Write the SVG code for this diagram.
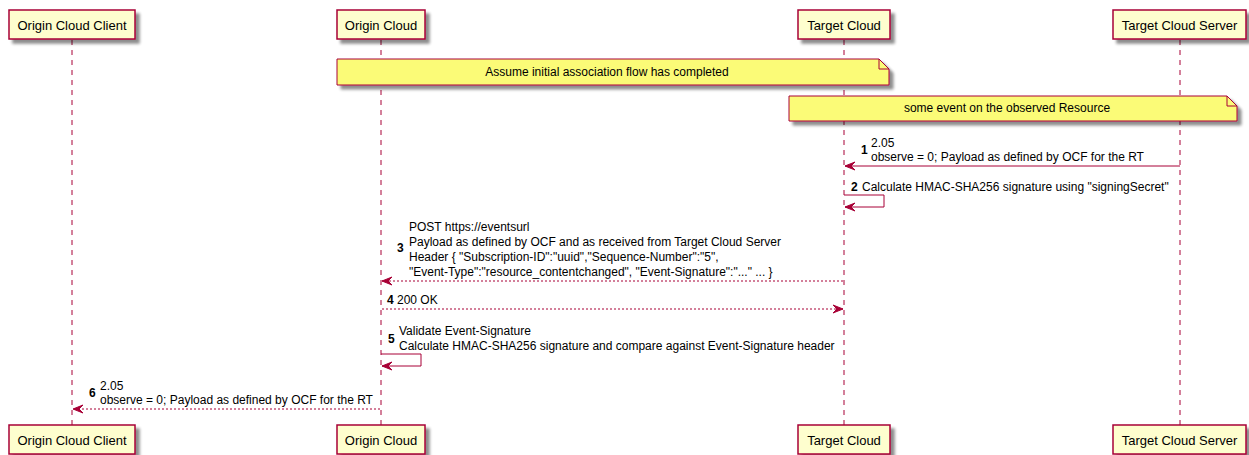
<svg xmlns="http://www.w3.org/2000/svg" width="1249" height="455" viewBox="0 0 1249 455">
<defs>
<filter id="sh" x="-5%" y="-20%" width="120%" height="160%">
<feGaussianBlur in="SourceAlpha" stdDeviation="1.8"/>
<feOffset dx="4" dy="4" result="b"/>
<feComponentTransfer><feFuncA type="linear" slope="0.45"/></feComponentTransfer>
<feMerge><feMergeNode/><feMergeNode in="SourceGraphic"/></feMerge>
</filter>
</defs>
<style>
.box{fill:#FEFECE;stroke:#A80036;stroke-width:1.5;filter:url(#sh)}
.note{fill:#FBFB77;stroke:#A80036;stroke-width:1;filter:url(#sh)}
.fold{fill:none;stroke:#A80036;stroke-width:1}
.life{stroke:#A80036;stroke-width:1;stroke-dasharray:5,5;fill:none}
.ptxt{font-family:"Liberation Sans",Arial,sans-serif;font-size:13px;fill:#000;text-anchor:middle}
.t{font-family:"Liberation Sans",Arial,sans-serif;font-size:12px;fill:#000}
.tc{font-family:"Liberation Sans",Arial,sans-serif;font-size:12px;fill:#000;text-anchor:middle}
.n{font-family:"Liberation Sans",Arial,sans-serif;font-size:12px;font-weight:bold;fill:#000}
.msg{stroke:#A80036;stroke-width:1;fill:none}
.dot{stroke:#A80036;stroke-width:1;stroke-dasharray:2,2;fill:none}
.ah{fill:#A80036;stroke:#A80036;stroke-width:1}
</style>
<rect width="1249" height="455" fill="#FFFFFF"/>
<g id="lifelines">
<line class="life" x1="72" y1="40" x2="72" y2="425"/>
<line class="life" x1="381" y1="40" x2="381" y2="425"/>
<line class="life" x1="844" y1="40" x2="844" y2="425"/>
<line class="life" x1="1180" y1="40" x2="1180" y2="425"/>
</g>
<g id="p-origin-cloud-client">
<rect class="box" x="9" y="10" width="126" height="29"/>
<text class="ptxt" x="72" y="29.5">Origin Cloud Client</text>
<rect class="box" x="9" y="425" width="126" height="29"/>
<text class="ptxt" x="72" y="444.5">Origin Cloud Client</text>
</g>
<g id="p-origin-cloud">
<rect class="box" x="337" y="10" width="88" height="29"/>
<text class="ptxt" x="381" y="29.5">Origin Cloud</text>
<rect class="box" x="337" y="425" width="88" height="29"/>
<text class="ptxt" x="381" y="444.5">Origin Cloud</text>
</g>
<g id="p-target-cloud">
<rect class="box" x="798" y="10" width="92" height="29"/>
<text class="ptxt" x="844" y="29.5">Target Cloud</text>
<rect class="box" x="798" y="425" width="92" height="29"/>
<text class="ptxt" x="844" y="444.5">Target Cloud</text>
</g>
<g id="p-target-cloud-server">
<rect class="box" x="1113" y="10" width="133" height="29"/>
<text class="ptxt" x="1179.5" y="29.5">Target Cloud Server</text>
<rect class="box" x="1113" y="425" width="133" height="29"/>
<text class="ptxt" x="1179.5" y="444.5">Target Cloud Server</text>
</g>
<g id="note-1">
<path class="note" d="M337,59 L337,85 L889,85 L889,69 L879,59 Z"/>
<path class="fold" d="M879,59 L879,69 L889,69"/>
<text class="tc" x="607" y="76">Assume initial association flow has completed</text>
</g>
<g id="note-2">
<path class="note" d="M789,96 L789,121 L1237,121 L1237,106 L1227,96 Z"/>
<path class="fold" d="M1227,96 L1227,106 L1237,106"/>
<text class="tc" x="1007" y="112">some event on the observed Resource</text>
</g>
<g id="connectors">
<line class="msg" x1="1180" y1="166" x2="845" y2="166"/>
<polygon class="ah" points="855,162 845,166 855,170 851,166"/>
<polyline class="msg" points="844,195 884,195 884,207 845,207"/>
<polygon class="ah" points="855,203 845,207 855,211 851,207"/>
<line class="dot" x1="843" y1="281" x2="382" y2="281"/>
<polygon class="ah" points="392,277 382,281 392,285 388,281"/>
<line class="dot" x1="382" y1="309" x2="843" y2="309"/>
<polygon class="ah" points="833,305 843,309 833,313 837,309"/>
<polyline class="msg" points="381,354 421,354 421,366 382,366"/>
<polygon class="ah" points="392,362 382,366 392,370 388,366"/>
<line class="dot" x1="380" y1="409" x2="73" y2="409"/>
<polygon class="ah" points="83,405 73,409 83,413 79,409"/>
</g>
<g id="labels">
<text class="n" x="861" y="154">1</text>
<text class="t" x="871" y="147">2.05</text>
<text class="t" x="871" y="161">observe = 0; Payload as defined by OCF for the RT</text>
<text class="n" x="851" y="191">2</text>
<text class="t" x="862" y="191">Calculate HMAC-SHA256 signature using "signingSecret"</text>
<text class="n" x="397" y="252">3</text>
<text class="t" x="409" y="231">POST https://eventsurl</text>
<text class="t" x="409" y="246">Payload as defined by OCF and as received from Target Cloud Server</text>
<text class="t" x="409" y="261">Header { "Subscription-ID":"uuid","Sequence-Number":"5",</text>
<text class="t" x="409" y="276">"Event-Type":"resource_contentchanged", "Event-Signature":"..." ... }</text>
<text class="n" x="387" y="304">4</text>
<text class="t" x="397" y="304">200 OK</text>
<text class="n" x="388" y="343">5</text>
<text class="t" x="399" y="335">Validate Event-Signature</text>
<text class="t" x="399" y="350">Calculate HMAC-SHA256 signature and compare against Event-Signature header</text>
<text class="n" x="89" y="397">6</text>
<text class="t" x="100" y="390">2.05</text>
<text class="t" x="100" y="404">observe = 0; Payload as defined by OCF for the RT</text>
</g>
</svg>
